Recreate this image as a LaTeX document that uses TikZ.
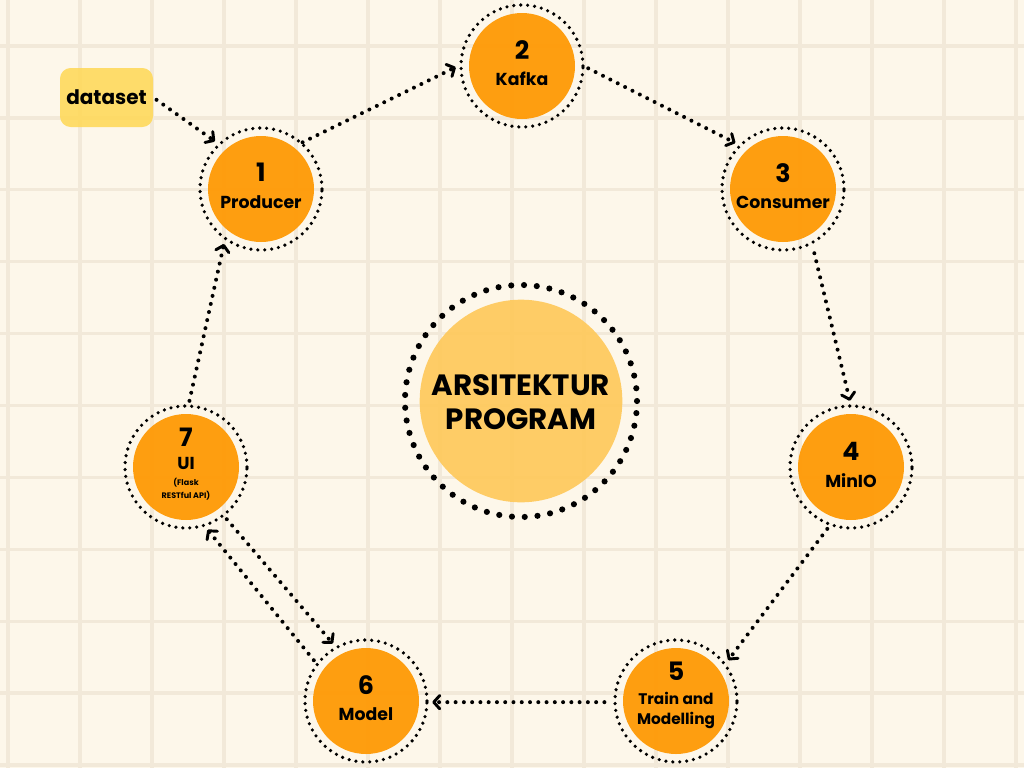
\documentclass[tikz,border=0pt]{standalone}
\usepackage{fontspec}
\setmainfont{Poppins}
\usetikzlibrary{arrows.meta}
\definecolor{bg}{RGB}{253,247,234}
\definecolor{gridc}{RGB}{242,233,217}
\definecolor{stor}{RGB}{255,152,0}
\definecolor{ctr}{RGB}{255,200,88}
\definecolor{dsy}{RGB}{255,216,84}
\newcommand{\numf}{\fontsize{19}{20}\selectfont\bfseries}
\newcommand{\labf}{\fontsize{13}{20}\selectfont\bfseries}
\tikzset{
  gridline/.style={draw=gridc, line width=2.5pt},
  ring/.style={draw=black, line width=2.7pt, line cap=round, dash pattern=on 0pt off 5.2pt},
  bigring/.style={draw=black, line width=4.6pt, line cap=round, dash pattern=on 0pt off 9.6pt},
  disc/.style={fill=stor, fill opacity=0.93},
  port/.style={circle, minimum size=99pt, inner sep=0pt, align=center, text=black, font=\labf},
  txt/.style={align=center, text=black, font=\labf, inner sep=0pt},
  conn/.style={line width=3pt, line cap=round, dash pattern=on 0pt off 6.2pt,
    -{Straight Barb[length=4.5pt,width=10pt,line width=2.2pt,round]}},
  dsbox/.style={rounded corners=8pt, fill=dsy, fill opacity=0.85, text opacity=1,
    minimum width=69.75pt, minimum height=44.25pt, inner sep=0pt,
    font=\fontsize{15}{18}\selectfont\bfseries},
}
\begin{document}
\begin{tikzpicture}[x=0.75pt,y=-0.75pt]
\useasboundingbox (0,0) rectangle (1024,768);
\fill[bg] (0,0) rectangle (1024,768);
\foreach \i in {0,...,14} \draw[gridline] ({8+72*\i},0) -- ({8+72*\i},768);
\foreach \j in {0,...,10} \draw[gridline] (0,{46+71.9*\j}) -- (1024,{46+71.9*\j});

% centre
\fill[ctr, fill opacity=0.9] (521,401) circle[radius=76pt];
\draw[bigring] (521,401) circle[radius=87pt];
\node[align=center, font=\fontsize{22}{25}\selectfont\bfseries] (core) at (521,402) {ARSITEKTUR\\PROGRAM};

% stations
\foreach \p in {(261,189),(522,66),(783,189),(851,467),(676,701),(366,701),(186,467)}{
  \fill[disc] \p circle[radius=39.75pt];
  \draw[ring] \p circle[radius=45.75pt];
}
\node[port] (n1) at (261,189) {};
\node[port] (n2) at (522,66) {};
\node[port] (n3) at (783,189) {};
\node[port] (n4) at (851,467) {};
\node[port] (n5) at (676,701) {};
\node[port] (n6) at (366,701) {};
\node[port] (n7) at (186,467) {};
\node[txt] (t1) at (261,186) {{\numf 1}\\Producer};
\node[txt] (t2) at (522,63) {{\numf 2}\\Kafka};
\node[txt] (t3) at (783,186) {{\numf 3}\\Consumer};
\node[txt] (t4) at (851,465) {{\numf 4}\\MinIO};
\node[txt] (t5) at (676,695) {{\numf 5}\\[-2pt]{\fontsize{11.5}{15}\selectfont\bfseries Train and}\\[-5pt]{\fontsize{11.5}{15}\selectfont\bfseries Modelling}};
\node[txt] (t6) at (366,698) {{\numf 6}\\Model};
\node[txt] (t7) at (186,464) {{\numf 7}\\[-3pt]UI\\[-8pt]{\fontsize{6}{7}\selectfont (Flask}\\[-10pt]{\fontsize{6}{7}\selectfont RESTful API)}};

\node[dsbox] (ds) at (106.5,97.5) {dataset};

% connectors
\draw[conn, shorten <=3pt] (ds.east) -- (n1.134);
\draw[conn, shorten <=-3pt] (n1.47) -- (n2.181);
\draw[conn] (n2.-2) -- (n3.136);
\draw[conn, shorten <=4pt] (n3.-63) -- (n4.91);
\draw[conn] (n4.249) -- (n5.38);
\draw[conn, shorten <=4pt] (n5.181) -- (n6.-1);
\draw[conn] (n6.142) -- (n7.-71);
\draw[conn] (n7.-52) -- (n6.120);
\draw[conn] (n7.87) -- (n1.236);
\end{tikzpicture}
\end{document}
